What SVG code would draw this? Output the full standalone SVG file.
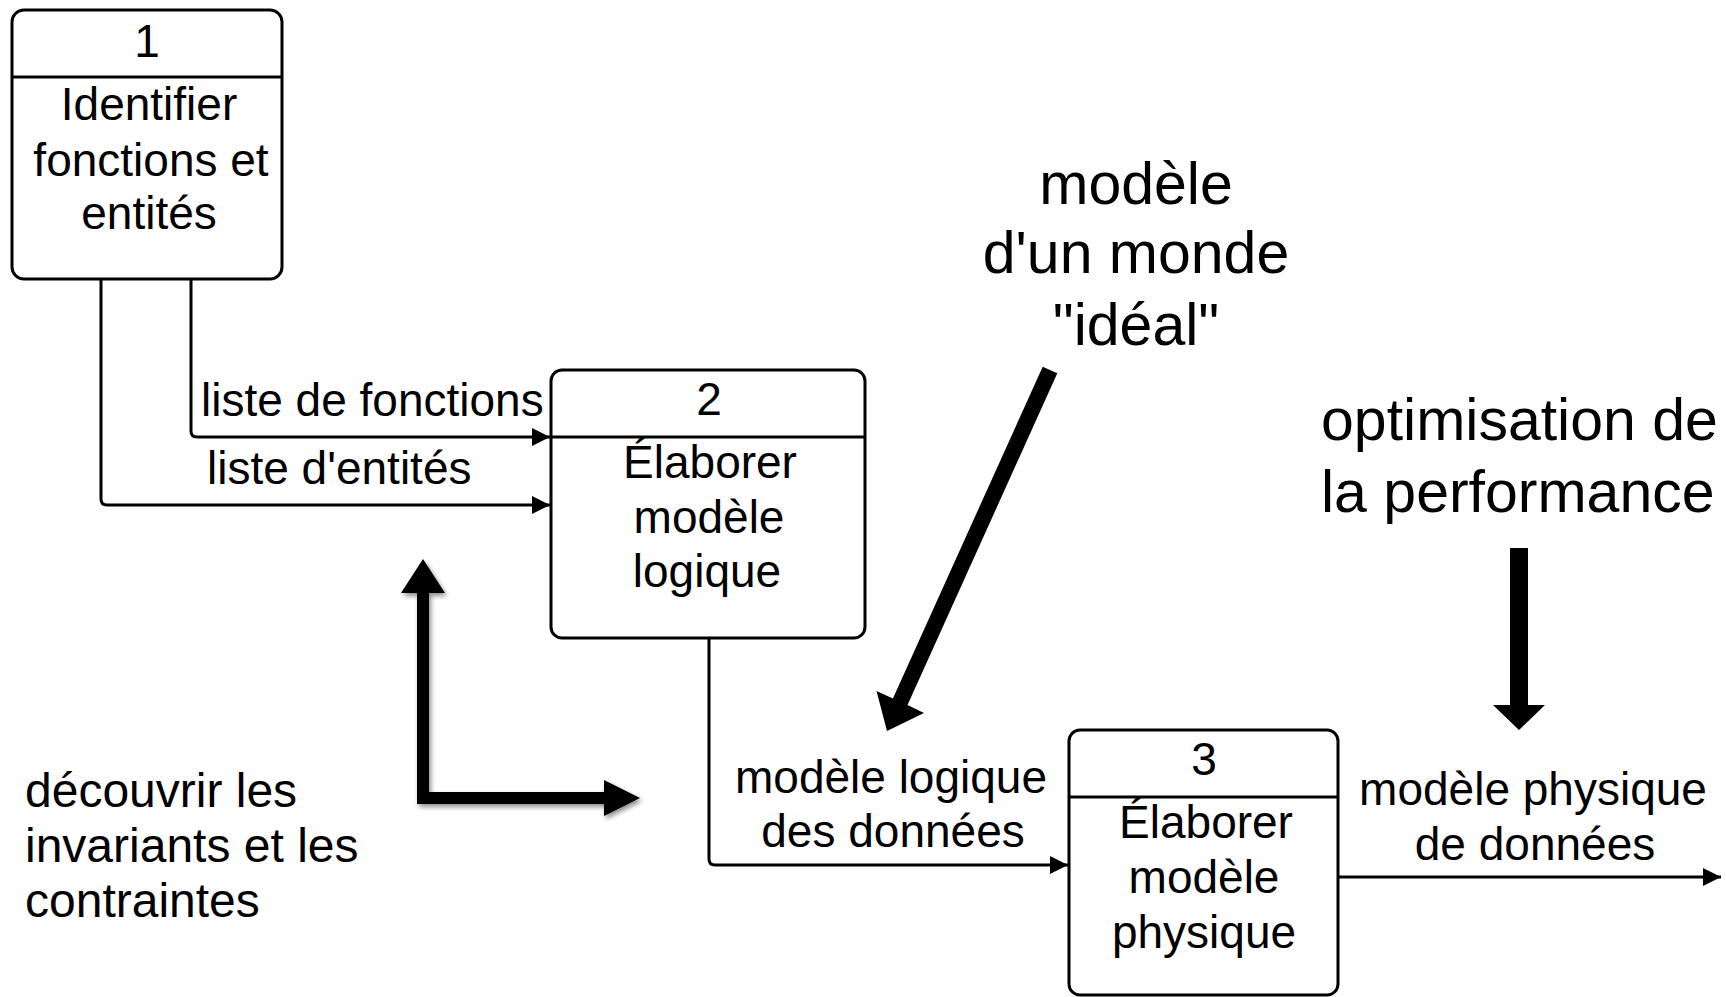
<svg xmlns="http://www.w3.org/2000/svg" width="1726" height="997" viewBox="0 0 1726 997">
  <style>
    .box { fill: #ffffff; stroke: #000000; stroke-width: 3; }
    .div { stroke: #000000; stroke-width: 3; }
    .flow { fill: none; stroke: #000000; stroke-width: 3; }
    .t { font-family: "Liberation Sans", Arial, Helvetica, sans-serif; font-size: 46px; fill: #000000; }
    .c { text-anchor: middle; }
    .big { font-family: "Liberation Sans", Arial, Helvetica, sans-serif; font-size: 59px; fill: #000000; }
    .note { font-family: "Liberation Sans", Arial, Helvetica, sans-serif; font-size: 48px; fill: #000000; }
    .thick { fill: #000000; }
  </style>
  <defs>
    <marker id="arrow" viewBox="0 0 10 10" refX="10" refY="5" markerWidth="6" markerHeight="6" markerUnits="strokeWidth" orient="auto">
      <path d="M0,0 L10,5 L0,10 z" fill="#000000"/>
    </marker>
    <filter id="soft" x="-20%" y="-20%" width="140%" height="140%">
      <feGaussianBlur in="SourceAlpha" stdDeviation="2.5"/>
      <feOffset dx="2" dy="3" result="b"/>
      <feComponentTransfer><feFuncA type="linear" slope="0.45"/></feComponentTransfer>
      <feMerge><feMergeNode/><feMergeNode in="SourceGraphic"/></feMerge>
    </filter>
  </defs>
  <rect width="1726" height="997" fill="#ffffff"/>

  <!-- flows between processes -->
  <g id="connectors">
    <path class="flow" d="M191,279 V431 Q191,437 197,437 H550" marker-end="url(#arrow)"/>
    <path class="flow" d="M101,279 V499 Q101,505 107,505 H550" marker-end="url(#arrow)"/>
    <path class="flow" d="M709,638 V859 Q709,865 715,865 H1068" marker-end="url(#arrow)"/>
    <path class="flow" d="M1338,877 H1721" marker-end="url(#arrow)"/>
    <text class="t" x="201" y="416">liste de fonctions</text>
    <text class="t" x="207" y="484">liste d'entités</text>
    <text class="t c" x="891" y="793">modèle logique</text>
    <text class="t c" x="893" y="847">des données</text>
    <text class="t c" x="1533" y="805">modèle physique</text>
    <text class="t c" x="1535" y="860">de données</text>
  </g>

  <!-- process 1 -->
  <g id="p1">
    <rect class="box" x="12" y="10" width="270" height="269" rx="12"/>
    <line class="div" x1="12" y1="77" x2="282" y2="77"/>
    <text class="t c" x="147" y="57">1</text>
    <text class="t c" x="149" y="120">Identifier</text>
    <text class="t c" x="151" y="176">fonctions et</text>
    <text class="t c" x="149" y="229">entités</text>
  </g>

  <!-- process 2 -->
  <g id="p2">
    <rect class="box" x="551" y="370" width="314" height="268" rx="11"/>
    <line class="div" x1="551" y1="437" x2="865" y2="437"/>
    <text class="t c" x="709" y="415">2</text>
    <text class="t c" x="710" y="478">Élaborer</text>
    <text class="t c" x="709" y="533">modèle</text>
    <text class="t c" x="707" y="587">logique</text>
  </g>

  <!-- process 3 -->
  <g id="p3">
    <rect class="box" x="1069" y="730" width="269" height="265" rx="11"/>
    <line class="div" x1="1069" y1="797" x2="1338" y2="797"/>
    <text class="t c" x="1204" y="775">3</text>
    <text class="t c" x="1206" y="838">Élaborer</text>
    <text class="t c" x="1204" y="893">modèle</text>
    <text class="t c" x="1204" y="948">physique</text>
  </g>

  <!-- annotation: ideal world -->
  <g id="ideal">
    <text class="big c" x="1136" y="204">modèle</text>
    <text class="big c" x="1136" y="273">d'un monde</text>
    <text class="big c" x="1136" y="345">"idéal"</text>
    <polygon class="thick" points="1057.3,373.3 907.5,705.1 924,713 887,731 876.5,691 892.9,698.5 1042.7,366.7"/>
  </g>

  <!-- annotation: performance -->
  <g id="perf">
    <text class="big" x="1321" y="440">optimisation de</text>
    <text class="big" x="1321" y="512">la performance</text>
    <polygon class="thick" points="1510,548 1528,548 1528,705 1545,705 1519,730 1493,705 1510,705"/>
  </g>

  <!-- annotation: invariants -->
  <g id="invariants">
    <text class="note" x="25" y="807">découvrir les</text>
    <text class="note" x="25" y="862">invariants et les</text>
    <text class="note" x="25" y="917">contraintes</text>
    <g filter="url(#soft)">
      <polygon class="thick" points="417,593 401,593 423,559 445,593 429,593 429,792 604,792 604,780 640,798 604,816 604,804 417,804"/>
    </g>
  </g>
</svg>
